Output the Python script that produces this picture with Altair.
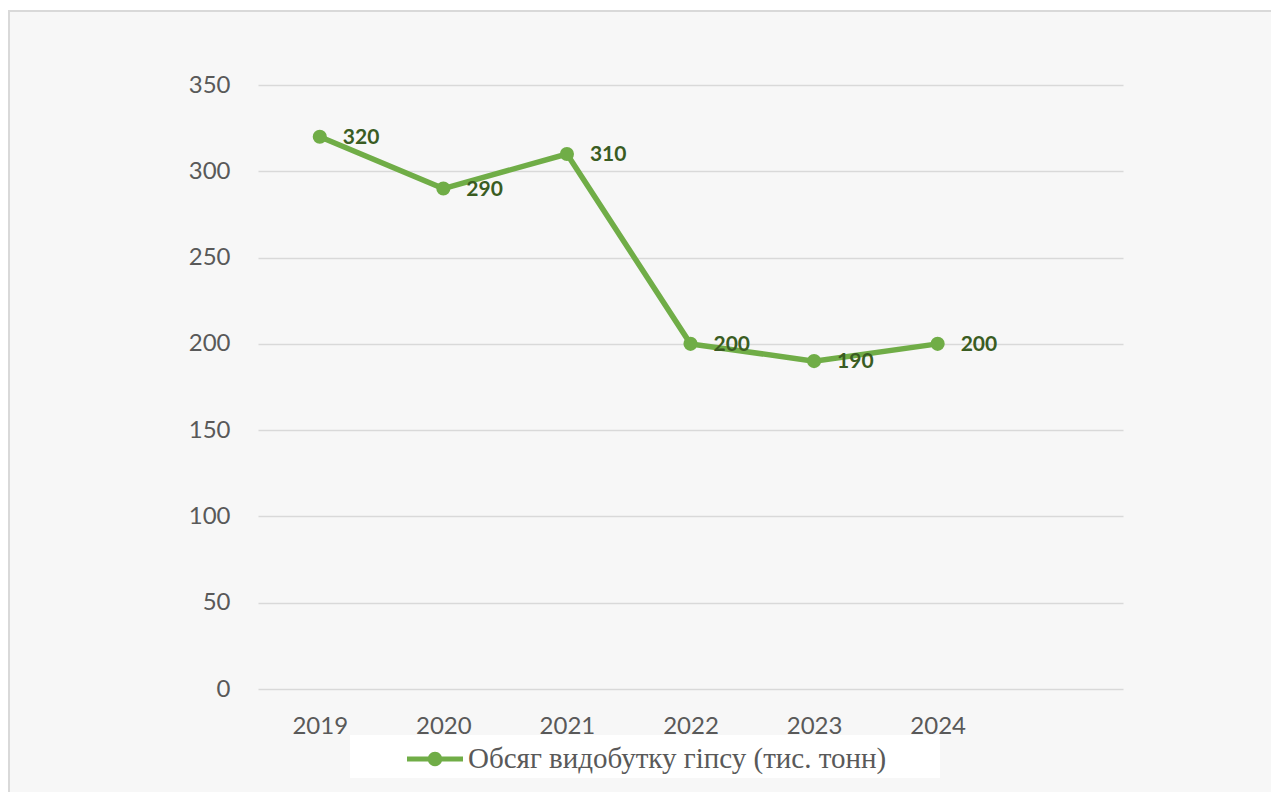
import altair as alt
import pandas as pd

# Gypsum output, thousand tonnes
years = ["2019", "2020", "2021", "2022", "2023", "2024"]
volumes = [320, 290, 310, 200, 190, 200]
series_name = "Обсяг видобутку гіпсу (тис. тонн)"

# an empty seventh slot keeps the category axis one step wider than the data
x_domain = years + [""]
y_ticks = [0, 50, 100, 150, 200, 250, 300, 350]

GREEN = "#70AD47"
LABEL_GREEN = "#3A5C22"
GRID = "#d9d9d9"
TEXT = "#595959"

df = pd.DataFrame({"year": years, "value": volumes, "series": series_name})
one = pd.DataFrame({"k": [0]})

x_enc = alt.X(
    "year:N",
    scale=alt.Scale(type="point", domain=x_domain, padding=0.5),
    axis=alt.Axis(title=None, labelAngle=0, ticks=False, domain=False,
                  labelPadding=25, labelFontSize=24),
)
y_enc = alt.Y(
    "value:Q",
    scale=alt.Scale(domain=[0, 350], nice=False),
    axis=alt.Axis(title=None, values=y_ticks, ticks=False, domain=False,
                  labelPadding=28, labelFontSize=24, gridColor=GRID, gridWidth=1.5),
)

# white page margin outside the framed chart area
margin_top = alt.Chart(one).mark_rect(fill="white").encode(
    x=alt.value(-258), x2=alt.value(1013), y=alt.value(-85), y2=alt.value(-74)
)
margin_left = alt.Chart(one).mark_rect(fill="white").encode(
    x=alt.value(-258), x2=alt.value(-249), y=alt.value(-85), y2=alt.value(707)
)
frame = alt.Chart(one).mark_rect(fillOpacity=0, stroke=GRID, strokeWidth=2).encode(
    x=alt.value(-249), x2=alt.value(1030), y=alt.value(-74), y2=alt.value(730)
)
legend_box = alt.Chart(one).mark_rect(fill="white").encode(
    x=alt.value(92), x2=alt.value(682), y=alt.value(650), y2=alt.value(693)
)

line = alt.Chart(df).mark_line(color=GREEN, strokeWidth=5.5).encode(x=x_enc, y=y_enc)

points = alt.Chart(df).mark_point(filled=True, size=200, opacity=1).encode(
    x=x_enc,
    y=y_enc,
    color=alt.Color(
        "series:N",
        scale=alt.Scale(range=[GREEN]),
        legend=alt.Legend(
            title=None,
            orient="none",
            legendX=149,
            legendY=646,
            padding=0,
            symbolType="M-1,-0.09H-0.2V0.09H-1Z M0.2,-0.09H1V0.09H0.2Z "
                       "M0.26,0A0.26,0.26,0,1,1,-0.26,0A0.26,0.26,0,1,1,0.26,0Z",
            symbolSize=3136,
            symbolStrokeWidth=0,
            symbolOpacity=1,
            labelFont="Liberation Serif",
            labelFontSize=29,
            labelColor=TEXT,
            labelOffset=5,
            labelLimit=700,
        ),
    ),
)

labels = alt.Chart(df).mark_text(
    align="left", baseline="middle", dx=23, dy=1,
    font="Lato", fontSize=21, fontWeight="bold", color=LABEL_GREEN,
).encode(x=x_enc, y=y_enc, text="value:Q")

chart = (
    alt.layer(margin_top, margin_left, frame, legend_box, line, points, labels)
    .properties(
        width=865,
        height=604,
        padding={"left": 258, "top": 85, "right": 148, "bottom": 103},
        autosize=alt.AutoSizeParams(type="none"),
    )
    .configure(background="#f7f7f7")
    .configure_view(stroke=None)
    .configure_axis(labelFont="Lato", labelColor=TEXT)
)

chart.save("out.html", embed_options={"renderer": "svg", "actions": False})
